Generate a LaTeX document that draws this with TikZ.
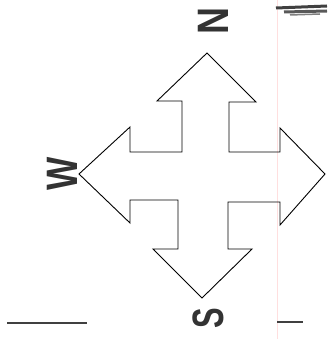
\documentclass[tikz,border=0pt]{standalone}
\usepackage{fontspec}
\setmainfont{Liberation Sans}
\usepackage{tikz}

\begin{document}
\begin{tikzpicture}[
    x=1pt, y=-1pt,
    letter/.style={font=\fontsize{44}{44}\selectfont\bfseries, rotate=90, inner sep=0pt, text=black!80},
    outline/.style={draw, line width=0.9pt, line join=miter},
    scanmark/.style={line width=1.2pt, draw=black!75}
]
\useasboundingbox (0,0) rectangle (327,339);

% page fold
\draw[pink!50, line width=0.6pt] (277,0) -- (277,339);

% cross of four arrows
\draw[outline] (207,53) -- (256,102) -- (229,102) -- (229,152) -- (280,152) -- (280,128)
    -- (325,174) -- (280,225) -- (280,202) -- (228,202) -- (228,249) -- (252,249)
    -- (202,298) -- (153,249) -- (178,249) -- (178,200) -- (130,200) -- (130,223)
    -- (79,174) -- (130,127) -- (130,152) -- (182,152) -- (182,101) -- (157,101) -- cycle;

% letters
\node[letter] (north) at (213,21) {\scalebox{0.85}[1]{N}};
\node[letter] (west) at (62,174) {\scalebox{0.8}[1]{W}};
\node[letter] (south) at (208,318) {\scalebox{0.7}[1]{S}};

% marks of the scan
\draw[black!75, line width=3pt] (276,8) -- (327,6);
\draw[black!65, line width=3pt] (284,12) -- (327,11);
\draw[black!50, line width=1.5pt] (290,15) -- (320,14);
\draw[scanmark] (7,323) -- (87,323);
\draw[scanmark] (277,322) -- (303,322);

\end{tikzpicture}
\end{document}
